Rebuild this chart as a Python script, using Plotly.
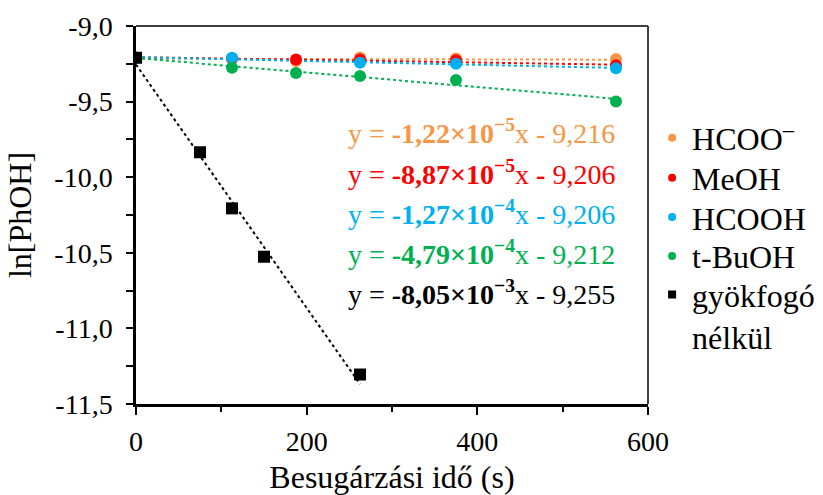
import plotly.graph_objects as go

# ---- data ----
series_names = ["HCOO<sup>–</sup>", "MeOH", "HCOOH", "t-BuOH", "gyökfogó<br>nélkül"]
series_colors = ["#F79646", "#FF0000", "#00B0F0", "#00B050", "#000000"]

t_hcoo = [0, 112.5, 187.5, 262.5, 375, 562.5]
y_hcoo = [-9.21, -9.215, -9.232, -9.208, -9.215, -9.219]
t_meoh = [0, 112.5, 187.5, 262.5, 375, 562.5]
y_meoh = [-9.21, -9.215, -9.221, -9.221, -9.226, -9.259]
t_hcooh = [0, 112.5, 262.5, 375, 562.5]
y_hcooh = [-9.21, -9.21, -9.243, -9.25, -9.28]
t_tbuoh = [0, 112.5, 187.5, 262.5, 375, 562.5]
y_tbuoh = [-9.21, -9.276, -9.311, -9.331, -9.357, -9.50]
t_none = [0, 75, 112.5, 150, 262.5]
y_none = [-9.21, -9.835, -10.206, -10.526, -11.305]

slopes = [-1.22e-5, -8.87e-5, -1.27e-4, -4.79e-4, -8.05e-3]
intercepts = [-9.216, -9.206, -9.206, -9.212, -9.255]
eq_texts = [
    "y = <b>-1,22×10<sup>−5</sup></b>x - 9,216",
    "y = <b>-8,87×10<sup>−5</sup></b>x <b>-</b> 9,206",
    "y = <b>-1,27×10<sup>−4</sup></b>x - 9,206",
    "y = <b>-4,79×10<sup>−4</sup></b>x - 9,212",
    "y = <b>-8,05×10<sup>−3</sup></b>x - 9,255",
]

x_tickvals = [0, 200, 400, 600]
x_ticktext = ["0", "200", "400", "600"]
y_tickvals = [-9.0, -9.5, -10.0, -10.5, -11.0, -11.5]
y_ticktext = ["-9,0", "-9,5", "-10,0", "-10,5", "-11,0", "-11,5"]

FONT = "Liberation Serif"

ts = [t_hcoo, t_meoh, t_hcooh, t_tbuoh, t_none]
ys = [y_hcoo, y_meoh, y_hcooh, y_tbuoh, y_none]

fig = go.Figure()

# trendlines
for t, s, b, c in zip(ts, slopes, intercepts, series_colors):
    xe = [0, max(t)]
    fig.add_trace(go.Scatter(x=xe, y=[b + s * v for v in xe], mode="lines",
                             line=dict(color=c, width=2, dash="dot"),
                             showlegend=False, hoverinfo="skip"))

# data points
for i, (t, y, c) in enumerate(zip(ts, ys, series_colors)):
    sym = "square" if i == 4 else "circle"
    fig.add_trace(go.Scatter(x=t, y=y, mode="markers",
                             marker=dict(color=c, size=12, symbol=sym),
                             showlegend=False))

# legend entries: one small legend per series for exact spacing
legend_ids = ["legend", "legend2", "legend3", "legend4", "legend5"]
for i, (n, c) in enumerate(zip(series_names, series_colors)):
    sym = "square" if i == 4 else "circle"
    fig.add_trace(go.Scatter(x=[None], y=[None], mode="markers", name=n,
                             legend=legend_ids[i],
                             marker=dict(color=c, size=8, symbol=sym)))

for i, (txt, c) in enumerate(zip(eq_texts, series_colors)):
    fig.add_annotation(x=0.411, y=0.72 - i * 0.1065, xref="paper", yref="paper",
                       xanchor="left", yanchor="middle", text=txt, showarrow=False,
                       font=dict(family=FONT, size=28, color=c))

# top and right frame
fig.add_shape(type="line", xref="paper", yref="paper", x0=0, x1=1, y0=1, y1=1,
              line=dict(color="#404040", width=2))
fig.add_shape(type="line", xref="paper", yref="paper", x0=1, x1=1, y0=0, y1=1,
              line=dict(color="#404040", width=2))

leg_common = dict(x=1.008, xanchor="left", font=dict(family=FONT, size=32),
                  itemwidth=30, bgcolor="rgba(0,0,0,0)", valign="top")
leg_y = [0.704, 0.598, 0.494, 0.391]

fig.update_layout(
    width=823, height=495,
    margin=dict(l=136, r=175, t=26, b=91, autoexpand=False),
    plot_bgcolor="white", paper_bgcolor="white",
    font=dict(family=FONT, size=28, color="black"),
    legend=dict(y=leg_y[0], yanchor="middle", **leg_common),
    legend2=dict(y=leg_y[1], yanchor="middle", **leg_common),
    legend3=dict(y=leg_y[2], yanchor="middle", **leg_common),
    legend4=dict(y=leg_y[3], yanchor="middle", **leg_common),
    legend5=dict(y=0.362, yanchor="top", **leg_common),
    xaxis=dict(range=[0, 600], tickvals=x_tickvals, ticktext=x_ticktext,
               showgrid=False, zeroline=False, showline=True, linecolor="black",
               linewidth=2.5, ticks="outside", ticklen=8, tickwidth=1.5,
               tickcolor="black", tickfont=dict(family=FONT, size=28),
               ticklabelstandoff=3,
               minor=dict(tickvals=[100, 300, 500], ticks="outside", ticklen=5,
                          tickwidth=1.5, tickcolor="black"),
               title=dict(text="Besugárzási idő (s)", font=dict(family=FONT, size=32), standoff=14)),
    yaxis=dict(range=[-11.5, -9.0], tickvals=y_tickvals, ticktext=y_ticktext,
               showgrid=False, zeroline=False, showline=True, linecolor="black",
               linewidth=2.5, ticks="outside", ticklen=7, tickwidth=1.5,
               tickcolor="black", tickfont=dict(family=FONT, size=28),
               ticklabelstandoff=8,
               minor=dict(tickvals=[-9.25, -9.75, -10.25, -10.75, -11.25],
                          ticks="outside", ticklen=7, tickwidth=1.5, tickcolor="black"),
               title=dict(text="ln[PhOH]", font=dict(family=FONT, size=32), standoff=14)),
)

fig.write_html("out.html")
